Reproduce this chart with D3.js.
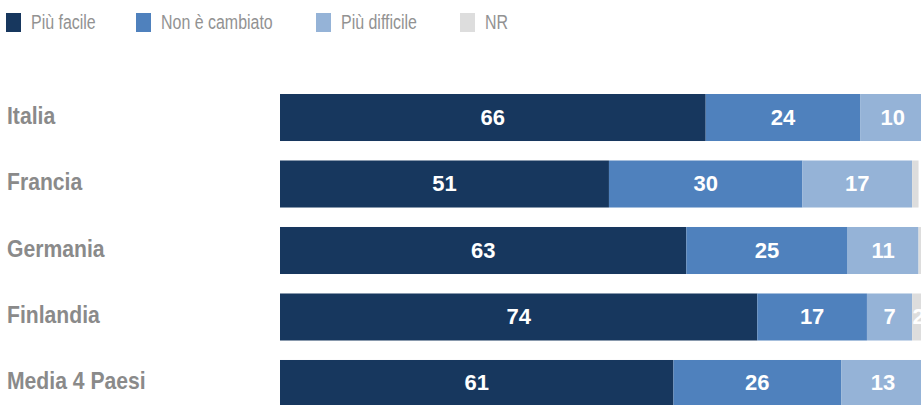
<!DOCTYPE html>
<html>
<head>
<meta charset="utf-8">
<script src="https://cdn.jsdelivr.net/npm/d3@7"></script>
<style>
  body { margin: 0; background: #fff; }
  svg { display: block; }
</style>
</head>
<body>
<div id="chart"></div>
<script>
// Data
var countries = ["Italia", "Francia", "Germania", "Finlandia", "Media 4 Paesi"];
var piuFacile = [66, 51, 63, 74, 61];
var nonCambiato = [24, 30, 25, 17, 26];
var piuDifficile = [10, 17, 11, 7, 13];
var nr = [0, 1, 1, 2, 0];

var seriesNames = ["Più facile", "Non è cambiato", "Più difficile", "NR"];
var seriesKeys = ["facile", "cambiato", "difficile", "nr"];
var colors = ["#17375e", "#4f81bd", "#95b3d7", "#dddddd"];

var width = 921, height = 405;

var rows = countries.map(function(c, i) {
    return {name: c, facile: piuFacile[i], cambiato: nonCambiato[i], difficile: piuDifficile[i], nr: nr[i]};
});

var svg = d3.select("#chart").append("svg")
    .attr("width", width)
    .attr("height", height);

// Scales
var x = d3.scaleLinear().domain([0, 100]).range([280, 925]);
var y = d3.scaleBand().domain(countries).range([94, 407]).paddingInner(0.293).paddingOuter(0);
var color = d3.scaleOrdinal().domain(seriesKeys).range(colors);

var stacked = d3.stack().keys(seriesKeys)(rows);

// Bars
var layer = svg.append("g").selectAll("g")
    .data(stacked)
    .enter().append("g")
    .attr("fill", function(d) { return color(d.key); });

layer.selectAll("rect")
    .data(function(d) { return d; })
    .enter().append("rect")
    .attr("x", function(d) { return x(d[0]); })
    .attr("y", function(d) { return y(d.data.name); })
    .attr("width", function(d) { return x(d[1]) - x(d[0]); })
    .attr("height", y.bandwidth());

// Value labels (segments under 2 points are left unlabelled)
layer.selectAll("text")
    .data(function(d) { return d.filter(function(s) { return s[1] - s[0] >= 2; }); })
    .enter().append("text")
    .attr("x", function(d) { return (x(d[0]) + x(d[1])) / 2; })
    .attr("y", function(d) { return y(d.data.name) + y.bandwidth() / 2 + 7; })
    .attr("text-anchor", "middle")
    .style("font-family", "'Liberation Sans', Arial, sans-serif")
    .style("font-weight", "bold")
    .style("font-size", "22px")
    .style("fill", "#fff")
    .text(function(d) { return d[1] - d[0]; });

// Country labels, squeezed to mimic the condensed face
svg.append("g").selectAll("text")
    .data(countries)
    .enter().append("text")
    .attr("transform", function(d) {
        return "translate(7," + (y(d) + y.bandwidth() / 2 + 6) + ") scale(0.92,1)";
    })
    .style("font-family", "'Liberation Sans', Arial, sans-serif")
    .style("font-weight", "bold")
    .style("font-size", "23px")
    .style("fill", "#8a8a8a")
    .text(function(d) { return d; });

// Legend
var legendX = [6, 136, 316, 460];
var legend = svg.append("g").selectAll("g")
    .data(seriesNames)
    .enter().append("g")
    .attr("transform", function(d, i) { return "translate(" + legendX[i] + ",0)"; });

legend.append("rect")
    .attr("x", 0)
    .attr("y", 13)
    .attr("width", 15)
    .attr("height", 19)
    .attr("fill", function(d, i) { return colors[i]; });

legend.append("text")
    .attr("transform", "translate(25,29) scale(0.76,1)")
    .style("font-family", "'Liberation Sans', Arial, sans-serif")
    .style("font-size", "21px")
    .style("fill", "#929292")
    .text(function(d) { return d; });
</script>
</body>
</html>
